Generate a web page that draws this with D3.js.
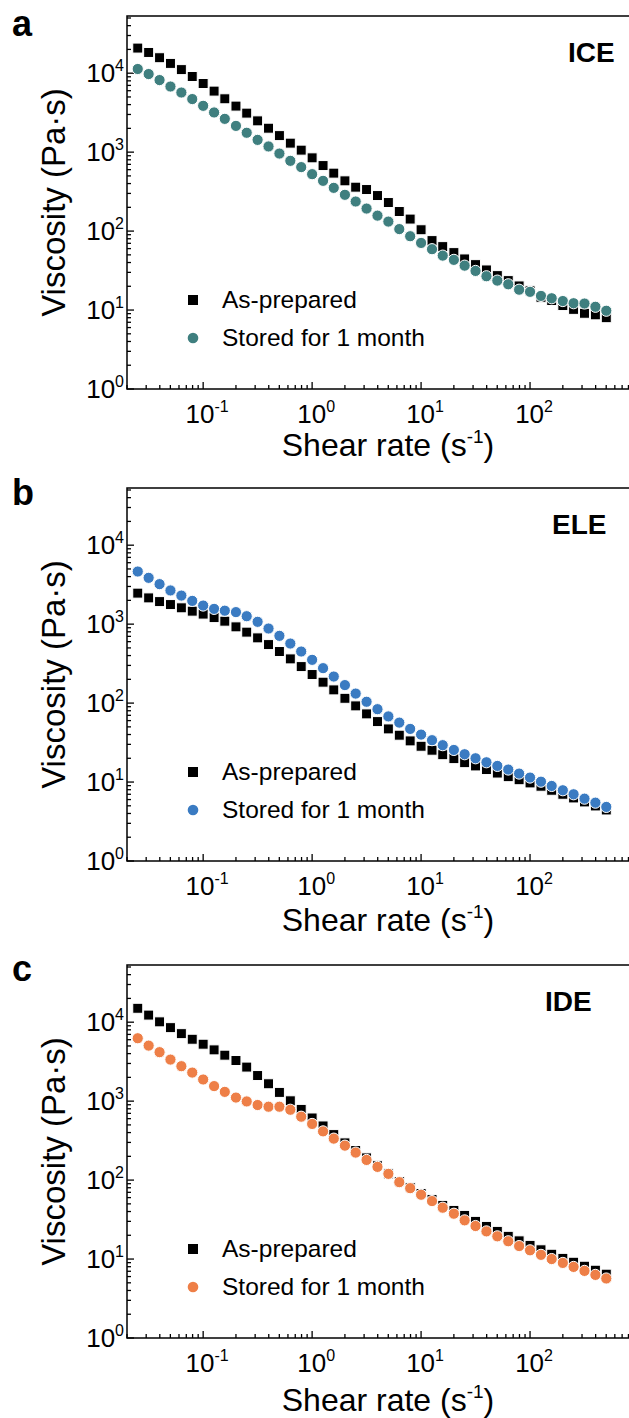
<!DOCTYPE html>
<meta charset="utf-8">
<head>
<script src="https://d3js.org/d3.v7.min.js"></script>
<style>
  body { margin: 0; background: #fff; }
  text { font-family: "Liberation Sans", Arial, Helvetica, sans-serif; fill: #000; }
</style>
</head>
<body>
<script>
// shear rate (1/s), 10 points per decade
var shearRate = [0.0251, 0.0316, 0.0398, 0.0501, 0.0631, 0.0794,
  0.1, 0.126, 0.158, 0.2, 0.251, 0.316, 0.398, 0.501, 0.631, 0.794,
  1, 1.26, 1.58, 2, 2.51, 3.16, 3.98, 5.01, 6.31, 7.94,
  10, 12.6, 15.8, 20, 25.1, 31.6, 39.8, 50.1, 63.1, 79.4,
  100, 126, 158, 200, 251, 316, 398, 501];

// viscosity (Pa.s)
var iceAsPrepared = [20800, 18300, 15700, 13300, 11100, 9080, 7400, 5930, 4740, 3830,
  3120, 2490, 2010, 1620, 1300, 1060, 847, 676, 542, 433,
  360, 336, 282, 230, 177, 142, 104, 75.8, 63.6, 53.4,
  44.4, 37.6, 32.2, 27.3, 23.6, 20.2, 17.5, 14.5, 13.2, 11.4,
  10.2, 9.1, 8.7, 8.0];
var iceStored = [11300, 9750, 8180, 6780, 5690, 4700, 3860, 3180, 2640, 2150,
  1760, 1430, 1180, 960, 776, 646, 526, 433, 353, 288,
  237, 193, 157, 132, 106, 86.1, 70.8, 59.0, 48.9, 43.2,
  36.5, 31.3, 26.8, 23.6, 21.2, 18.1, 17.0, 15.1, 14.1, 13.0,
  12.2, 12.1, 11.0, 9.8];
var eleAsPrepared = [2470, 2150, 1930, 1770, 1610, 1460, 1340, 1210, 1090, 924,
  792, 670, 551, 450, 363, 290, 230, 184, 147, 115,
  92.2, 73.0, 58.3, 47.1, 39.2, 33.2, 28.4, 25.3, 22.2, 19.8,
  17.6, 16.0, 14.4, 13.0, 11.7, 10.7, 9.75, 8.85, 7.87, 7.0,
  6.29, 5.60, 4.98, 4.43];
var eleStored = [4640, 3860, 3210, 2670, 2300, 1970, 1720, 1560, 1480, 1420,
  1260, 1070, 880, 711, 568, 450, 353, 277, 217, 169,
  132, 104, 83.7, 67.8, 56.6, 47.1, 39.9, 33.9, 29.3, 25.5,
  22.5, 20.0, 17.8, 16.0, 14.4, 12.8, 11.4, 10.1, 8.92, 7.87,
  7.0, 6.16, 5.48, 4.84];
var ideAsPrepared = [15000, 12300, 10100, 8530, 7160, 6080, 5260, 4460, 3820, 3270,
  2700, 2110, 1660, 1290, 1010, 786, 612, 485, 377, 296,
  237, 191, 152, 120, 96, 80.7, 67.7, 56.9, 47.8, 41.3,
  35.7, 30.0, 25.9, 22.4, 19.4, 17.0, 14.9, 13.1, 11.5, 10.2,
  9.11, 8.11, 7.22, 6.43];
var ideStored = [6260, 5050, 4170, 3360, 2770, 2300, 1880, 1550, 1310, 1110,
  991, 893, 850, 850, 778, 635, 514, 414, 335, 273,
  223, 180, 147, 120, 94.1, 79.0, 65.2, 54.2, 44.7, 37.5,
  30.9, 26.2, 22.4, 19.4, 16.8, 14.6, 12.9, 11.3, 10.0, 8.93,
  7.95, 7.08, 6.30, 5.67];

var legendLabels = ["As-prepared", "Stored for 1 month"];
var xTickExp = [-1, 0, 1, 2];
var yTickExp = [0, 1, 2, 3, 4];

var panels = [
  {letter: "a", name: "ICE", black: iceAsPrepared, stored: iceStored, color: "#3f7f7f",
   top: 16, letterY: 36, nameX: 568, titleDy: 67},
  {letter: "b", name: "ELE", black: eleAsPrepared, stored: eleStored, color: "#3a7bc2",
   top: 488, letterY: 505, nameX: 552, titleDy: 70},
  {letter: "c", name: "IDE", black: ideAsPrepared, stored: ideStored, color: "#ee7f47",
   top: 965, letterY: 981, nameX: 545, titleDy: 73}
];

var w = 629, h = 1418;
var plotLeft = 127, plotRight = 639, plotH = 373;

var svg = d3.select("body").append("svg")
  .attr("width", w)
  .attr("height", h);

var x = d3.scaleLog().domain([0.02, 1000]).range([plotLeft, plotRight]);

panels.forEach(function(p) { drawPanel(p); });

function isMajor(v) {
  var l = Math.log10(v);
  return Math.abs(l - Math.round(l)) < 1e-6;
}

function drawPanel(p) {
  var bottom = p.top + plotH;
  var y = d3.scaleLog().domain([1, 53000]).range([bottom, p.top]);
  var g = svg.append("g");

  // frame
  g.append("rect")
    .attr("x", plotLeft).attr("y", p.top)
    .attr("width", plotRight - plotLeft).attr("height", plotH)
    .attr("fill", "none").attr("stroke", "#000").attr("stroke-width", 1.5);

  // x ticks (inside)
  g.selectAll(".xt").data(x.ticks()).enter().append("line")
    .attr("x1", function(d) { return x(d); })
    .attr("x2", function(d) { return x(d); })
    .attr("y1", bottom)
    .attr("y2", function(d) { return bottom - (isMajor(d) ? 7 : 4); })
    .attr("stroke", "#000").attr("stroke-width", 1.3);

  // y ticks (inside)
  g.selectAll(".yt").data(y.ticks()).enter().append("line")
    .attr("y1", function(d) { return y(d); })
    .attr("y2", function(d) { return y(d); })
    .attr("x1", plotLeft)
    .attr("x2", function(d) { return plotLeft + (isMajor(d) ? 7 : 4); })
    .attr("stroke", "#000").attr("stroke-width", 1.3);

  // x tick labels
  var xl = g.selectAll(".xl").data(xTickExp).enter().append("text")
    .attr("x", function(d) { return x(Math.pow(10, d)) + 4; })
    .attr("y", bottom + 34)
    .attr("text-anchor", "middle")
    .style("font-size", "26px");
  xl.append("tspan").text("10");
  xl.append("tspan").attr("dy", -11).style("font-size", "16px")
    .text(function(d) { return d; });

  // y tick labels
  var yl = g.selectAll(".yl").data(yTickExp).enter().append("text")
    .attr("x", 124)
    .attr("y", function(d) { return y(Math.pow(10, d)) + 9; })
    .attr("text-anchor", "end")
    .style("font-size", "26px");
  yl.append("tspan").text("10");
  yl.append("tspan").attr("dy", -11).style("font-size", "16px")
    .text(function(d) { return d; });

  // axis titles
  var xt = g.append("text")
    .attr("x", 388).attr("y", bottom + p.titleDy)
    .attr("text-anchor", "middle")
    .style("font-size", "32px");
  xt.append("tspan").text("Shear rate (s");
  xt.append("tspan").attr("dy", -13).style("font-size", "19px").text("-1");
  xt.append("tspan").attr("dy", 13).text(")");

  g.append("text")
    .attr("transform", "translate(65," + (p.top + plotH / 2) + ") rotate(-90)")
    .attr("text-anchor", "middle")
    .style("font-size", "33px")
    .text("Viscosity (Pa\u00b7s)");

  // panel letter and sample name
  g.append("text")
    .attr("x", 12).attr("y", p.letterY)
    .style("font-size", "36px").style("font-weight", "bold")
    .text(p.letter);
  g.append("text")
    .attr("x", p.nameX).attr("y", p.top + 46)
    .style("font-size", "28px").style("font-weight", "bold")
    .text(p.name);

  // data: squares then circles
  g.selectAll(".sq").data(p.black).enter().append("rect")
    .attr("x", function(d, i) { return x(shearRate[i]) - 5; })
    .attr("y", function(d) { return y(d) - 5; })
    .attr("width", 10).attr("height", 10)
    .attr("fill", "#000").attr("stroke", "#fff").attr("stroke-width", 1);

  g.selectAll(".ci").data(p.stored).enter().append("circle")
    .attr("cx", function(d, i) { return x(shearRate[i]); })
    .attr("cy", function(d) { return y(d); })
    .attr("r", 5.6)
    .attr("fill", p.color).attr("stroke", "#fff").attr("stroke-width", 1);

  // legend
  var lg = g.append("g");
  lg.append("rect")
    .attr("x", 193 - 5).attr("y", bottom - 89 - 5)
    .attr("width", 10).attr("height", 10).attr("fill", "#000");
  lg.append("circle")
    .attr("cx", 193).attr("cy", bottom - 51).attr("r", 5.3)
    .attr("fill", p.color);
  lg.selectAll("text").data(legendLabels).enter().append("text")
    .attr("x", 222)
    .attr("y", function(d, i) { return bottom - 81 + i * 38; })
    .style("font-size", "24.5px")
    .text(function(d) { return d; });
}
</script>
</body>
</html>
